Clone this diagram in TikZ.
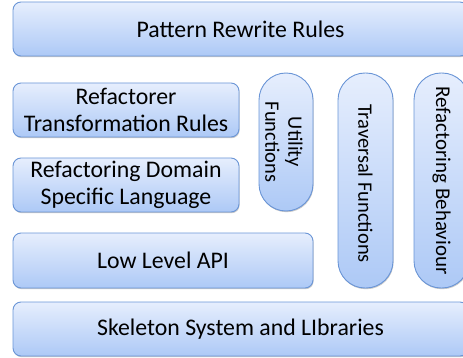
\documentclass[tikz,border=0pt]{standalone}
\usepackage{fontspec}
\setmainfont{Carlito}
\usetikzlibrary{shadows}
\definecolor{boxtop}{HTML}{E6EEFD}
\definecolor{boxbot}{HTML}{ADC9F6}
\definecolor{boxline}{HTML}{6A95D6}
\tikzset{
  layer/.style={draw=boxline, line width=0.9pt, top color=boxtop, bottom color=boxbot,
    rounded corners=8pt, inner sep=0pt, align=center,
    font=\fontsize{23.8}{27}\selectfont,
    drop shadow={shadow xshift=0.6pt, shadow yshift=-1.2pt, opacity=0.35, fill=black!60}},
  pill/.style={layer, rounded corners=27pt},
  vtext/.style={rotate=-90, align=center, inner sep=0pt},
}
\begin{document}
\begin{tikzpicture}[x=1pt,y=-1pt]
\useasboundingbox (0,0) rectangle (463,358);
\node[layer, minimum width=455pt, minimum height=54pt] (prr) at (240.5,29) {Pattern Rewrite Rules};
\node[layer, minimum width=226pt, minimum height=54pt] (rtr) at (126,110) {Refactorer\\Transformation Rules};
\node[layer, minimum width=226pt, minimum height=54pt] (rdsl) at (126,185) {Refactoring Domain\\Specific Language};
\node[layer, minimum width=300pt, minimum height=55pt] (lla) at (163,260.5) {Low Level API};
\node[layer, minimum width=455pt, minimum height=54pt] (ssl) at (240.5,329) {Skeleton System and LIbraries};
\node[pill, minimum width=54pt, minimum height=138pt] (uf) at (286,142) {};
\node[vtext, font=\fontsize{20.5}{23}\selectfont] (uft) at ([xshift=-2pt]uf.center) {Utility\\Functions};
\node[pill, minimum width=55pt, minimum height=215pt] (tf) at (365.5,180.5) {};
\node[vtext, font=\fontsize{20.5}{23}\selectfont] (tft) at ([yshift=-3pt]tf.center) {Traversal Functions};
\node[pill, minimum width=55pt, minimum height=215pt] (rb) at (441.5,180.5) {};
\node[vtext, font=\fontsize{21}{24}\selectfont] (rbt) at (rb.center) {Refactoring Behaviour};
\end{tikzpicture}
\end{document}
